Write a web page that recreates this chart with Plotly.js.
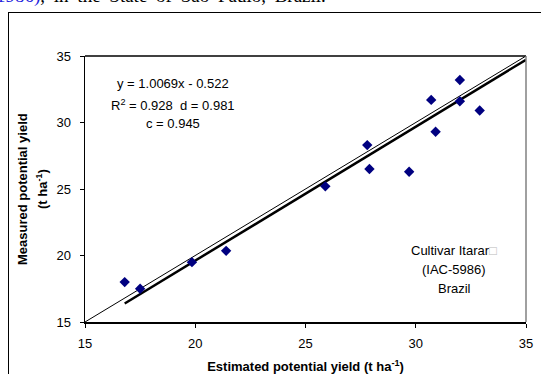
<!DOCTYPE html>
<html>
<head>
<meta charset="utf-8">
<script src="https://cdn.plot.ly/plotly-3.0.1.min.js"></script>
<style>
  html, body { margin:0; padding:0; background:#fff; overflow:hidden; }
  #wrap { position:relative; width:541px; height:374px; overflow:hidden; }
  #chart { position:absolute; left:0; top:0; width:541px; height:374px; }
  #frame { position:absolute; left:8px; top:12px; width:700px; height:500px; border:1.5px solid #000; pointer-events:none; }
  #cap { position:absolute; left:-4px; top:-15px; font-family:"Liberation Serif","Times New Roman",serif; font-size:19px; white-space:nowrap; color:#000; word-spacing:4px; }
  #cap .b { color:#2222dd; }
</style>
</head>
<body>
<div id="wrap">
  <div id="cap"><span class="b">1986)</span>, in the State of São Paulo, Brazil.</div>
  <div id="chart"></div>
  <div id="frame"></div>
</div>
<script>
// Observed data (estimated vs measured potential yield, t/ha)
const estimated = [16.8, 17.5, 19.85, 21.4, 25.9, 27.8, 27.9, 29.7, 30.7, 30.9, 32.0, 32.0, 32.9];
const measured  = [18.0, 17.5, 19.5, 20.35, 25.2, 28.3, 26.5, 26.3, 31.7, 29.3, 33.2, 31.6, 30.9];

// Regression y = slope*x + intercept, drawn over this x span
const slope = 1.0069;
const intercept = -0.522;
const fitX = [16.8, 35];
const fitY = fitX.map(x => slope * x + intercept);

// 1:1 line
const oneX = [15, 35];
const oneY = [15, 35];

const tickVals = [15, 20, 25, 30, 35];
const font = "Liberation Sans, Arial, sans-serif";

const traces = [
  { x: oneX, y: oneY, mode: "lines", line: { color: "#000", width: 1 }, hoverinfo: "skip" },
  { x: fitX, y: fitY, mode: "lines", line: { color: "#000", width: 2.5 }, hoverinfo: "skip" },
  { x: estimated, y: measured, mode: "markers", marker: { symbol: "diamond", size: 8, color: "#000080" } }
];

function ann(x, y, text) {
  return { xref: "x", yref: "y", x: x, y: y, showarrow: false, xanchor: "center", yanchor: "middle",
           text: text, font: { family: font, size: 13 } };
}

const layout = {
  width: 541, height: 374,
  margin: { l: 85, r: 15, t: 56, b: 52 },
  paper_bgcolor: "rgba(0,0,0,0)",
  plot_bgcolor: "#fff",
  showlegend: false,
  font: { family: font, size: 13, color: "#000" },
  xaxis: {
    range: [15, 35], tickvals: tickVals, ticks: "outside", ticklen: 4, tickwidth: 1, tickcolor: "#000",
    ticklabelstandoff: 5,
    showgrid: false, zeroline: false, showline: true, linecolor: "#000", linewidth: 1.5,
    tickfont: { family: font, size: 13 },
    title: { text: "<b>Estimated potential yield (t ha<sup>-1</sup>)</b>", font: { family: font, size: 13 }, standoff: 14 }
  },
  yaxis: {
    range: [15, 35], tickvals: tickVals, ticks: "outside", ticklen: 4, tickwidth: 1, tickcolor: "#000",
    ticklabelstandoff: 6,
    showgrid: false, zeroline: false, showline: true, linecolor: "#000", linewidth: 1.5,
    tickfont: { family: font, size: 13 },
    title: { text: "" }
  },
  shapes: [
    { type: "line", xref: "paper", yref: "paper", x0: 0, x1: 1, y0: 1, y1: 1, line: { color: "#000", width: 1.5 } },
    { type: "line", xref: "paper", yref: "paper", x0: 1, x1: 1, y0: 0, y1: 1, line: { color: "#808080", width: 1.5 } }
  ],
  annotations: [
    { xref: "paper", yref: "paper", x: (22 - 85) / 441, y: 0.5, xanchor: "center", yanchor: "middle", textangle: -90, showarrow: false,
      text: "<b>Measured potential yield</b>", font: { family: font, size: 13 } },
    { xref: "paper", yref: "paper", x: (42 - 85) / 441, y: 0.5, xanchor: "center", yanchor: "middle", textangle: -90, showarrow: false,
      text: "<b>(t ha<sup>-1</sup>)</b>", font: { family: font, size: 13 } },
    ann(19.0, 32.9, "y = 1.0069x - 0.522"),
    ann(19.0, 31.3, "R<sup>2</sup> = 0.928  d = 0.981"),
    ann(19.0, 29.95, "c = 0.945"),
    ann(31.75, 20.35, "Cultivar Itarar<span style=\"color:#bbbbbb\">□</span>"),
    ann(31.75, 18.93, "(IAC-5986)"),
    ann(31.75, 17.5, "Brazil")
  ]
};

Plotly.newPlot("chart", traces, layout, { displayModeBar: false, staticPlot: true });
</script>
</body>
</html>
